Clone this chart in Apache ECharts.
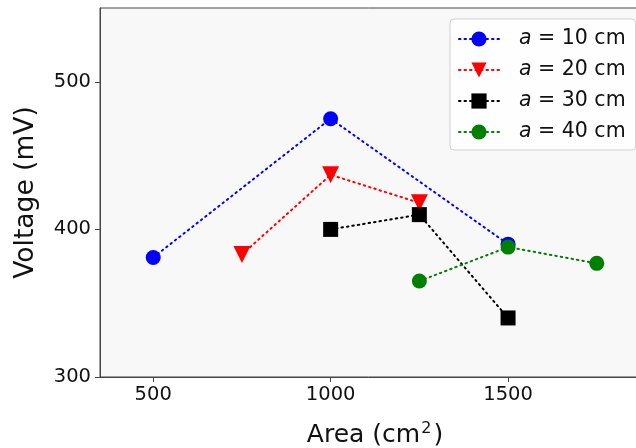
<!DOCTYPE html>
<html>
<head>
<meta charset="utf-8">
<script src="https://cdn.jsdelivr.net/npm/echarts@6/dist/echarts.min.js"></script>
<style>html,body{margin:0;padding:0;background:#fff}#c{width:636px;height:448px}</style>
</head>
<body>
<div id="c"></div>
<script>
var seriesNames = ['10', '20', '30', '40'];
var xA10 = [500, 1000, 1500];
var yA10 = [381, 475, 390];
var xA20 = [750, 1000, 1250];
var yA20 = [383, 437, 418];
var xA30 = [1000, 1250, 1500];
var yA30 = [400, 410, 340];
var xA40 = [1250, 1500, 1750];
var yA40 = [365, 388, 377];
var xTicks = [500, 1000, 1500];
var yTicks = [300, 400, 500];

var FONT = 'DejaVu Sans';
function pairs(xs, ys) { return xs.map(function (x, i) { return [x, ys[i]]; }); }
var styles = [
  { color: '#0000ff', symbol: 'circle', size: 15, rot: 0 },
  { color: '#ff0000', symbol: 'triangle', size: 17, rot: 180 },
  { color: '#000000', symbol: 'rect', size: 15, rot: 0 },
  { color: '#008000', symbol: 'circle', size: 15, rot: 0 }
];
var data = [pairs(xA10, yA10), pairs(xA20, yA20), pairs(xA30, yA30), pairs(xA40, yA40)];
var series = data.map(function (d, i) {
  var s = styles[i];
  return {
    name: 'a = ' + seriesNames[i] + ' cm',
    type: 'line',
    data: d,
    symbol: s.symbol,
    symbolSize: s.size,
    symbolRotate: s.rot,
    showAllSymbol: true,
    itemStyle: { color: s.color },
    lineStyle: { color: s.color, width: 2, type: [1.5, 4], cap: 'round' },
    emphasis: { disabled: true },
    animation: false
  };
});

var chart = echarts.init(document.getElementById('c'), null, { renderer: 'canvas' });
chart.setOption({
  animation: false,
  backgroundColor: '#ffffff',
  grid: { left: 100, top: 8, height: 369, width: 550, outerBoundsMode: 'none', containLabel: false,
    show: true, backgroundColor: '#f8f8f8', borderColor: '#444', borderWidth: 1 },
  xAxis: {
    type: 'value', min: 350, max: 1900,
    name: 'Area (cm{sup|2})', nameLocation: 'middle', nameGap: 44,
    nameTextStyle: { fontFamily: FONT, fontSize: 25, color: '#111', rich: { sup: { fontSize: 16, verticalAlign: 'top', padding: [0, 2, 12, 1], fontFamily: FONT, color: '#111' } } },
    axisLine: { show: true, lineStyle: { color: '#444', width: 1 } },
    axisTick: { show: true, length: 5, inside: false, customValues: xTicks, lineStyle: { color: '#444' } },
    axisLabel: { customValues: xTicks, fontFamily: FONT, fontSize: 19.5, color: '#111', margin: 8, formatter: function (v) { return String(v); } },
    splitLine: { show: false }
  },
  yAxis: {
    type: 'value', min: 300, max: 550,
    name: 'Voltage (mV)', nameLocation: 'middle', nameGap: 60,
    nameTextStyle: { fontFamily: FONT, fontSize: 26.5, color: '#111' },
    axisLine: { show: true, lineStyle: { color: '#444', width: 1 } },
    axisTick: { show: true, length: 5, customValues: yTicks, lineStyle: { color: '#444' } },
    axisLabel: { customValues: yTicks, fontFamily: FONT, fontSize: 19.5, color: '#111', margin: 9, formatter: function (v) { return String(v); } },
    splitLine: { show: false }
  },
  legend: {
    left: 450, top: 19, orient: 'vertical',
    padding: [9, 10, 7, 8],
    itemWidth: 40, itemHeight: 19, itemGap: 9,
    backgroundColor: 'rgba(255,255,255,0.85)', borderColor: '#d0d0d0', borderWidth: 1, borderRadius: 4,
    formatter: function (name) { var parts = name.split(' = '); return '{i|a} = ' + parts[1]; },
    textStyle: { fontFamily: FONT, fontSize: 20.5, color: '#111', padding: [0, 0, 0, 15], lineHeight: 22,
      rich: { i: { fontStyle: 'italic', fontFamily: FONT, fontSize: 20.5, color: '#111', lineHeight: 22 } } }
  },
  series: series
});
</script>
</body>
</html>
